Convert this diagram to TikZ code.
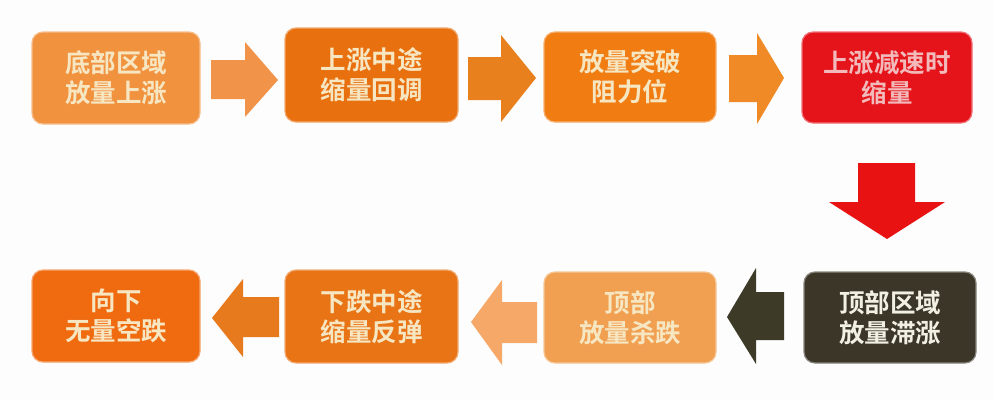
\documentclass[tikz,border=0pt]{standalone}
\usepackage{fontspec}
\newfontfamily\cjk{Noto Sans CJK SC}[BoldFont={* Bold}]
\definecolor{bgc}{HTML}{FDFDFD}
\definecolor{cA}{HTML}{F1923F}
\definecolor{cB}{HTML}{E8700F}
\definecolor{cC}{HTML}{F07C12}
\definecolor{cD}{HTML}{E5141B}
\definecolor{cE}{HTML}{3B3628}
\definecolor{cF}{HTML}{F0A050}
\definecolor{cG}{HTML}{E87416}
\definecolor{cH}{HTML}{F06A10}
\definecolor{aA}{HTML}{F1944A}
\definecolor{aB}{HTML}{E8801E}
\definecolor{aC}{HTML}{F08A26}
\definecolor{aD}{HTML}{E81212}
\definecolor{aE}{HTML}{3D3A28}
\definecolor{aF}{HTML}{F5A868}
\definecolor{aG}{HTML}{E87A1E}
\definecolor{txtY}{HTML}{F7E6C2}
\definecolor{txtP}{HTML}{F2BABA}
\definecolor{txtW}{HTML}{F2F0E2}
\begin{document}
\begin{tikzpicture}[x=1pt,y=-1pt,
  box/.style={rounded corners=11pt, inner sep=0pt, align=center,
    font=\cjk\bfseries\fontsize{25.5}{30}\selectfont, text=txtY},
  glow/.style={draw=#1!60!white, line width=1.2pt}]
\fill[bgc] (0,0) rectangle (994,400);
\useasboundingbox (0,0) rectangle (994,400);
% top row boxes
\node[box, fill=cA, glow=cA, minimum width=168pt, minimum height=92pt] (b1) at (116,78) {底部区域\\放量上涨};
\node[box, fill=cB, glow=cB, minimum width=173pt, minimum height=94pt] (b2) at (371.5,75) {上涨中途\\缩量回调};
\node[box, fill=cC, glow=cC, minimum width=172pt, minimum height=90pt] (b3) at (630,77) {放量突破\\阻力位};
\node[box, fill=cD, glow=cD, text=txtP, minimum width=170pt, minimum height=91pt] (b4) at (887,77.5) {上涨减速时\\缩量};
% bottom row boxes
\node[box, fill=cE, glow=cE, text=txtW, minimum width=172pt, minimum height=91pt] (b8) at (890,317.5) {顶部区域\\放量滞涨};
\node[box, fill=cF, glow=cF, minimum width=172pt, minimum height=91pt] (b7) at (630,317.5) {顶部\\放量杀跌};
\node[box, fill=cG, glow=cG, minimum width=173pt, minimum height=93pt] (b6) at (371.5,316.5) {下跌中途\\缩量反弹};
\node[box, fill=cH, glow=cH, minimum width=168pt, minimum height=92pt] (b5) at (116,316) {向下\\无量空跌};
% block arrows (top row, pointing right)
\fill[aA] (211,60) -- (245,60) -- (245,42) -- (278,80) -- (245,117) -- (245,99) -- (211,99) -- cycle;
\fill[aB] (468,57) -- (501,57) -- (501,35) -- (536,78) -- (501,122) -- (501,100) -- (468,100) -- cycle;
\fill[aC] (729,55) -- (757,55) -- (757,33) -- (784,78) -- (757,124) -- (757,102) -- (729,102) -- cycle;
% down arrow
\fill[aD] (858,163) -- (915,163) -- (915,202) -- (945,202) -- (887,239) -- (829,202) -- (858,202) -- cycle;
% bottom row arrows (pointing left)
\fill[aE] (784,292) -- (756,292) -- (756,268) -- (727,317) -- (756,364) -- (756,340) -- (784,340) -- cycle;
\fill[aF] (537,302) -- (502,302) -- (502,280) -- (471,322) -- (502,365) -- (502,343) -- (537,343) -- cycle;
\fill[aG] (279,297) -- (243,297) -- (243,279) -- (212,318) -- (243,357) -- (243,337) -- (279,337) -- cycle;
\end{tikzpicture}
\end{document}
